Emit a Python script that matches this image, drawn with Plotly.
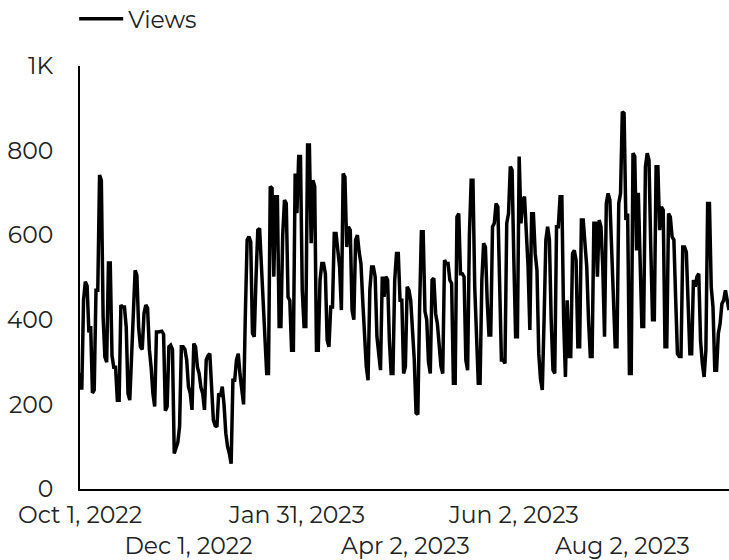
import pandas as pd
import plotly.graph_objects as go

start_date = "2022-10-01"

views_oct = [275, 235, 447, 490, 480, 370, 385, 227, 234, 470, 470, 742, 730, 407, 312, 300,
             534, 534, 315, 288, 288, 210, 210, 435, 430, 430, 383, 226, 210, 305, 420]
views_nov = [517, 505, 380, 336, 330, 415, 435, 428, 330, 288, 226, 195, 371, 371, 371, 373,
             366, 185, 195, 336, 340, 330, 84, 100, 110, 147, 336, 336, 330, 305]
views_dec = [242, 226, 187, 344, 336, 289, 273, 240, 226, 187, 305, 315, 320, 242, 163, 150,
             147, 226, 218, 242, 200, 132, 100, 84, 60, 257, 257, 305, 320, 270, 234]
views_jan = [200, 415, 589, 597, 585, 368, 360, 500, 612, 616, 530, 446, 336, 273, 273, 715,
             711, 502, 691, 691, 384, 384, 600, 683, 675, 454, 446, 328, 328, 746, 652]
views_feb = [786, 786, 470, 384, 384, 813, 813, 581, 730, 715, 328, 328, 494, 533, 533, 509,
             352, 336, 430, 430, 604, 604, 564, 525, 423, 746, 738, 572]
views_mar = [620, 612, 423, 400, 589, 600, 560, 533, 446, 380, 290, 257, 470, 525, 525, 502,
             360, 320, 281, 502, 454, 502, 494, 350, 273, 273, 494, 557, 557, 446, 446]
views_apr = [273, 289, 478, 470, 446, 380, 305, 180, 176, 430, 608, 608, 420, 400, 300, 273,
             494, 498, 415, 391, 336, 290, 273, 541, 533, 533, 494, 486, 250, 250]
views_may = [643, 651, 509, 509, 502, 305, 281, 600, 730, 730, 478, 336, 250, 250, 494, 581,
             572, 446, 364, 364, 620, 628, 675, 667, 494, 305, 305, 297, 628, 651, 762]
views_jun = [754, 541, 360, 360, 786, 628, 683, 691, 600, 525, 376, 651, 651, 557, 517, 320,
             260, 234, 400, 589, 620, 589, 400, 281, 273, 620, 620, 691, 691, 400]
views_jul = [265, 446, 313, 313, 557, 564, 541, 336, 336, 636, 636, 589, 525, 400, 313, 313,
             628, 628, 502, 636, 620, 525, 360, 675, 699, 683, 560, 494, 336, 336, 675]
views_aug = [699, 892, 888, 636, 651, 273, 273, 794, 786, 564, 700, 560, 384, 384, 762, 794,
             778, 572, 400, 400, 762, 762, 612, 667, 659, 336, 336, 651, 643, 596, 589]
views_sep = [450, 320, 313, 313, 572, 572, 560, 462, 320, 320, 494, 478, 502, 509, 350, 297,
             265, 328, 675, 675, 478, 430, 281, 281, 368, 391, 438, 446, 470, 446, 423]

tick_dates = ["2022-10-01", "2022-12-01", "2023-01-31", "2023-04-02", "2023-06-02", "2023-08-02"]
tick_labels = ["Oct 1, 2022", "<br>Dec 1, 2022", "Jan 31, 2023", "<br>Apr 2, 2023",
               "Jun 2, 2023", "<br>Aug 2, 2023"]
y_ticks = [0, 200, 400, 600, 800, 1000]
y_labels = ["0", "200", "400", "600", "800", "1K"]

views = (views_oct + views_nov + views_dec + views_jan + views_feb + views_mar + views_apr
         + views_may + views_jun + views_jul + views_aug + views_sep)
dates = pd.date_range(start_date, periods=len(views), freq="D")

font_family = "Montserrat, 'Open Sans', sans-serif"
FS = 23.5

fig = go.Figure()
fig.add_trace(go.Scatter(x=dates, y=views, mode="lines", name="Views",
                         line=dict(color="#000000", width=3.5)))

fig.update_layout(
    width=729, height=560,
    margin=dict(l=80, r=0, t=66, b=71, autoexpand=False),
    paper_bgcolor="white", plot_bgcolor="white",
    font=dict(family=font_family, size=FS, color="#222222"),
    showlegend=True,
    legend=dict(orientation="h", x=-0.009, xanchor="left", y=0.966, yanchor="middle",
                yref="container", font=dict(size=FS, color="#222222"),
                itemwidth=44, bgcolor="rgba(0,0,0,0)"),
    xaxis=dict(type="date", tickvals=tick_dates, ticktext=tick_labels,
               showline=True, linecolor="#000000", linewidth=2, showgrid=False,
               zeroline=False, ticks="", tickangle=0, automargin=False,
               ticklabelstandoff=4),
    yaxis=dict(range=[0, 1000], tickvals=y_ticks, ticktext=y_labels,
               showline=True, linecolor="#000000", linewidth=2, showgrid=False,
               zeroline=False, ticks="", ticklabelstandoff=20, automargin=False),
)

fig.write_html("out.html", config={"displayModeBar": False},
               post_script="document.body.style.margin='0';document.body.style.overflow='hidden';")
